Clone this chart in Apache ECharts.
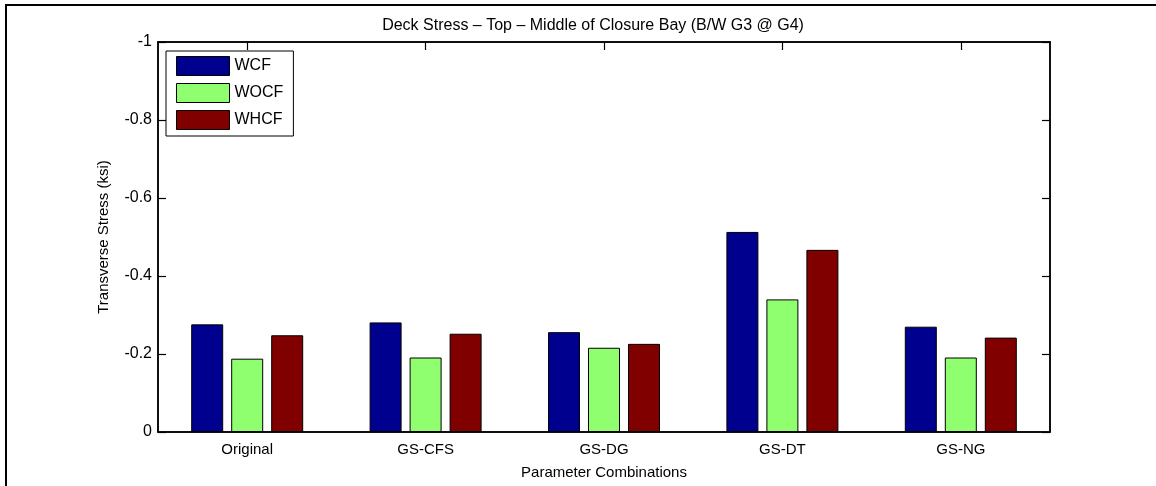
<!DOCTYPE html>
<html>
<head>
<meta charset="utf-8">
<script src="https://cdn.jsdelivr.net/npm/echarts@6/dist/echarts.min.js"></script>
<style>
html,body{margin:0;padding:0;background:#fff;}
#chart{width:1156px;height:486px;}
</style>
</head>
<body>
<div id="chart"></div>
<script>
const categories = ['Original', 'GS-CFS', 'GS-DG', 'GS-DT', 'GS-NG'];
const seriesNames = ['WCF', 'WOCF', 'WHCF'];
const wcf  = [-0.276, -0.281, -0.256, -0.513, -0.270];
const wocf = [-0.188, -0.191, -0.216, -0.340, -0.191];
const whcf = [-0.248, -0.252, -0.226, -0.467, -0.242];
const yMin = -1, yMax = 0, yStep = 0.2;
const colors = ['#00008F', '#8FFF70', '#800000'];

const chart = echarts.init(document.getElementById('chart'));
const FONT = 'Liberation Sans, Arial, sans-serif';

function barSeries(name, data, color) {
  return {
    name: name,
    type: 'bar',
    xAxisIndex: 0,
    yAxisIndex: 0,
    data: data,
    barWidth: 32,
    barGap: '25%',
    itemStyle: { color: color, borderColor: '#000', borderWidth: 1 },
    emphasis: { disabled: true },
    animation: false
  };
}

chart.setOption({
  animation: false,
  title: {
    text: 'Deck Stress \u2013 Top \u2013 Middle of Closure Bay (B/W G3 @ G4)',
    left: 588, top: 13, textAlign: 'center',
    textStyle: { fontFamily: FONT, fontSize: 16, fontWeight: 'normal', color: '#000' }
  },
  graphic: [{
    type: 'rect',
    shape: { x: 6, y: 5, width: 1170, height: 500 },
    style: { fill: 'none', stroke: '#000', lineWidth: 2 },
    silent: true, z: -1
  }],
  legend: {
    data: seriesNames.map(n => ({ name: n, icon: 'rect' })),
    orient: 'vertical',
    left: 166, top: 51,
    itemWidth: 53, itemHeight: 19, itemGap: 7,
    padding: [5, 10, 6, 10],
    backgroundColor: '#fff',
    borderColor: '#000', borderWidth: 1,
    textStyle: { fontFamily: FONT, fontSize: 16, color: '#000', lineHeight: 19 },
    itemStyle: { borderColor: '#000', borderWidth: 1 }
  },
  grid: {
    left: 158, right: 106, top: 42, bottom: 54,
    show: true, borderColor: '#000', borderWidth: 1.5, backgroundColor: 'rgba(0,0,0,0)'
  },
  xAxis: [{
    type: 'category',
    data: categories,
    position: 'bottom',
    name: 'Parameter Combinations',
    nameLocation: 'middle', nameGap: 33,
    nameTextStyle: { fontFamily: FONT, fontSize: 15, color: '#000' },
    axisLine: { onZero: false, lineStyle: { color: '#000', width: 1.5 } },
    axisTick: { inside: true, alignWithLabel: true, interval: 0, length: 8, lineStyle: { color: '#000' } },
    axisLabel: { fontFamily: FONT, fontSize: 15, color: '#000', margin: 10, interval: 0 }
  }, {
    type: 'category',
    data: categories,
    position: 'top',
    axisLine: { show: true, onZero: false, lineStyle: { color: '#000', width: 1.5 } },
    axisTick: { show: true, inside: true, alignWithLabel: true, interval: 0, length: 8, lineStyle: { color: '#000', width: 1.2 } },
    axisLabel: { show: false }
  }],
  yAxis: [{
    type: 'value',
    inverse: true,
    min: yMin, max: yMax, interval: yStep,
    position: 'left',
    name: 'Transverse Stress (ksi)',
    nameLocation: 'middle', nameGap: 47,
    nameTextStyle: { fontFamily: FONT, fontSize: 15, color: '#000' },
    axisLine: { show: true, onZero: false, lineStyle: { color: '#000', width: 1.5 } },
    axisTick: { show: true, inside: true, length: 8, lineStyle: { color: '#000', width: 1.2 } },
    axisLabel: { fontFamily: FONT, fontSize: 16, color: '#000', margin: 6,
      formatter: v => String(Math.round(v * 10) / 10) },
    splitLine: { show: false }
  }, {
    type: 'value',
    inverse: true,
    min: yMin, max: yMax, interval: yStep,
    position: 'right',
    axisLine: { show: true, onZero: false, lineStyle: { color: '#000', width: 1.5 } },
    axisTick: { show: true, inside: true, length: 8, lineStyle: { color: '#000', width: 1.2 } },
    axisLabel: { show: false },
    splitLine: { show: false }
  }],
  series: [
    barSeries(seriesNames[0], wcf, colors[0]),
    barSeries(seriesNames[1], wocf, colors[1]),
    barSeries(seriesNames[2], whcf, colors[2])
  ]
});
</script>
</body>
</html>
